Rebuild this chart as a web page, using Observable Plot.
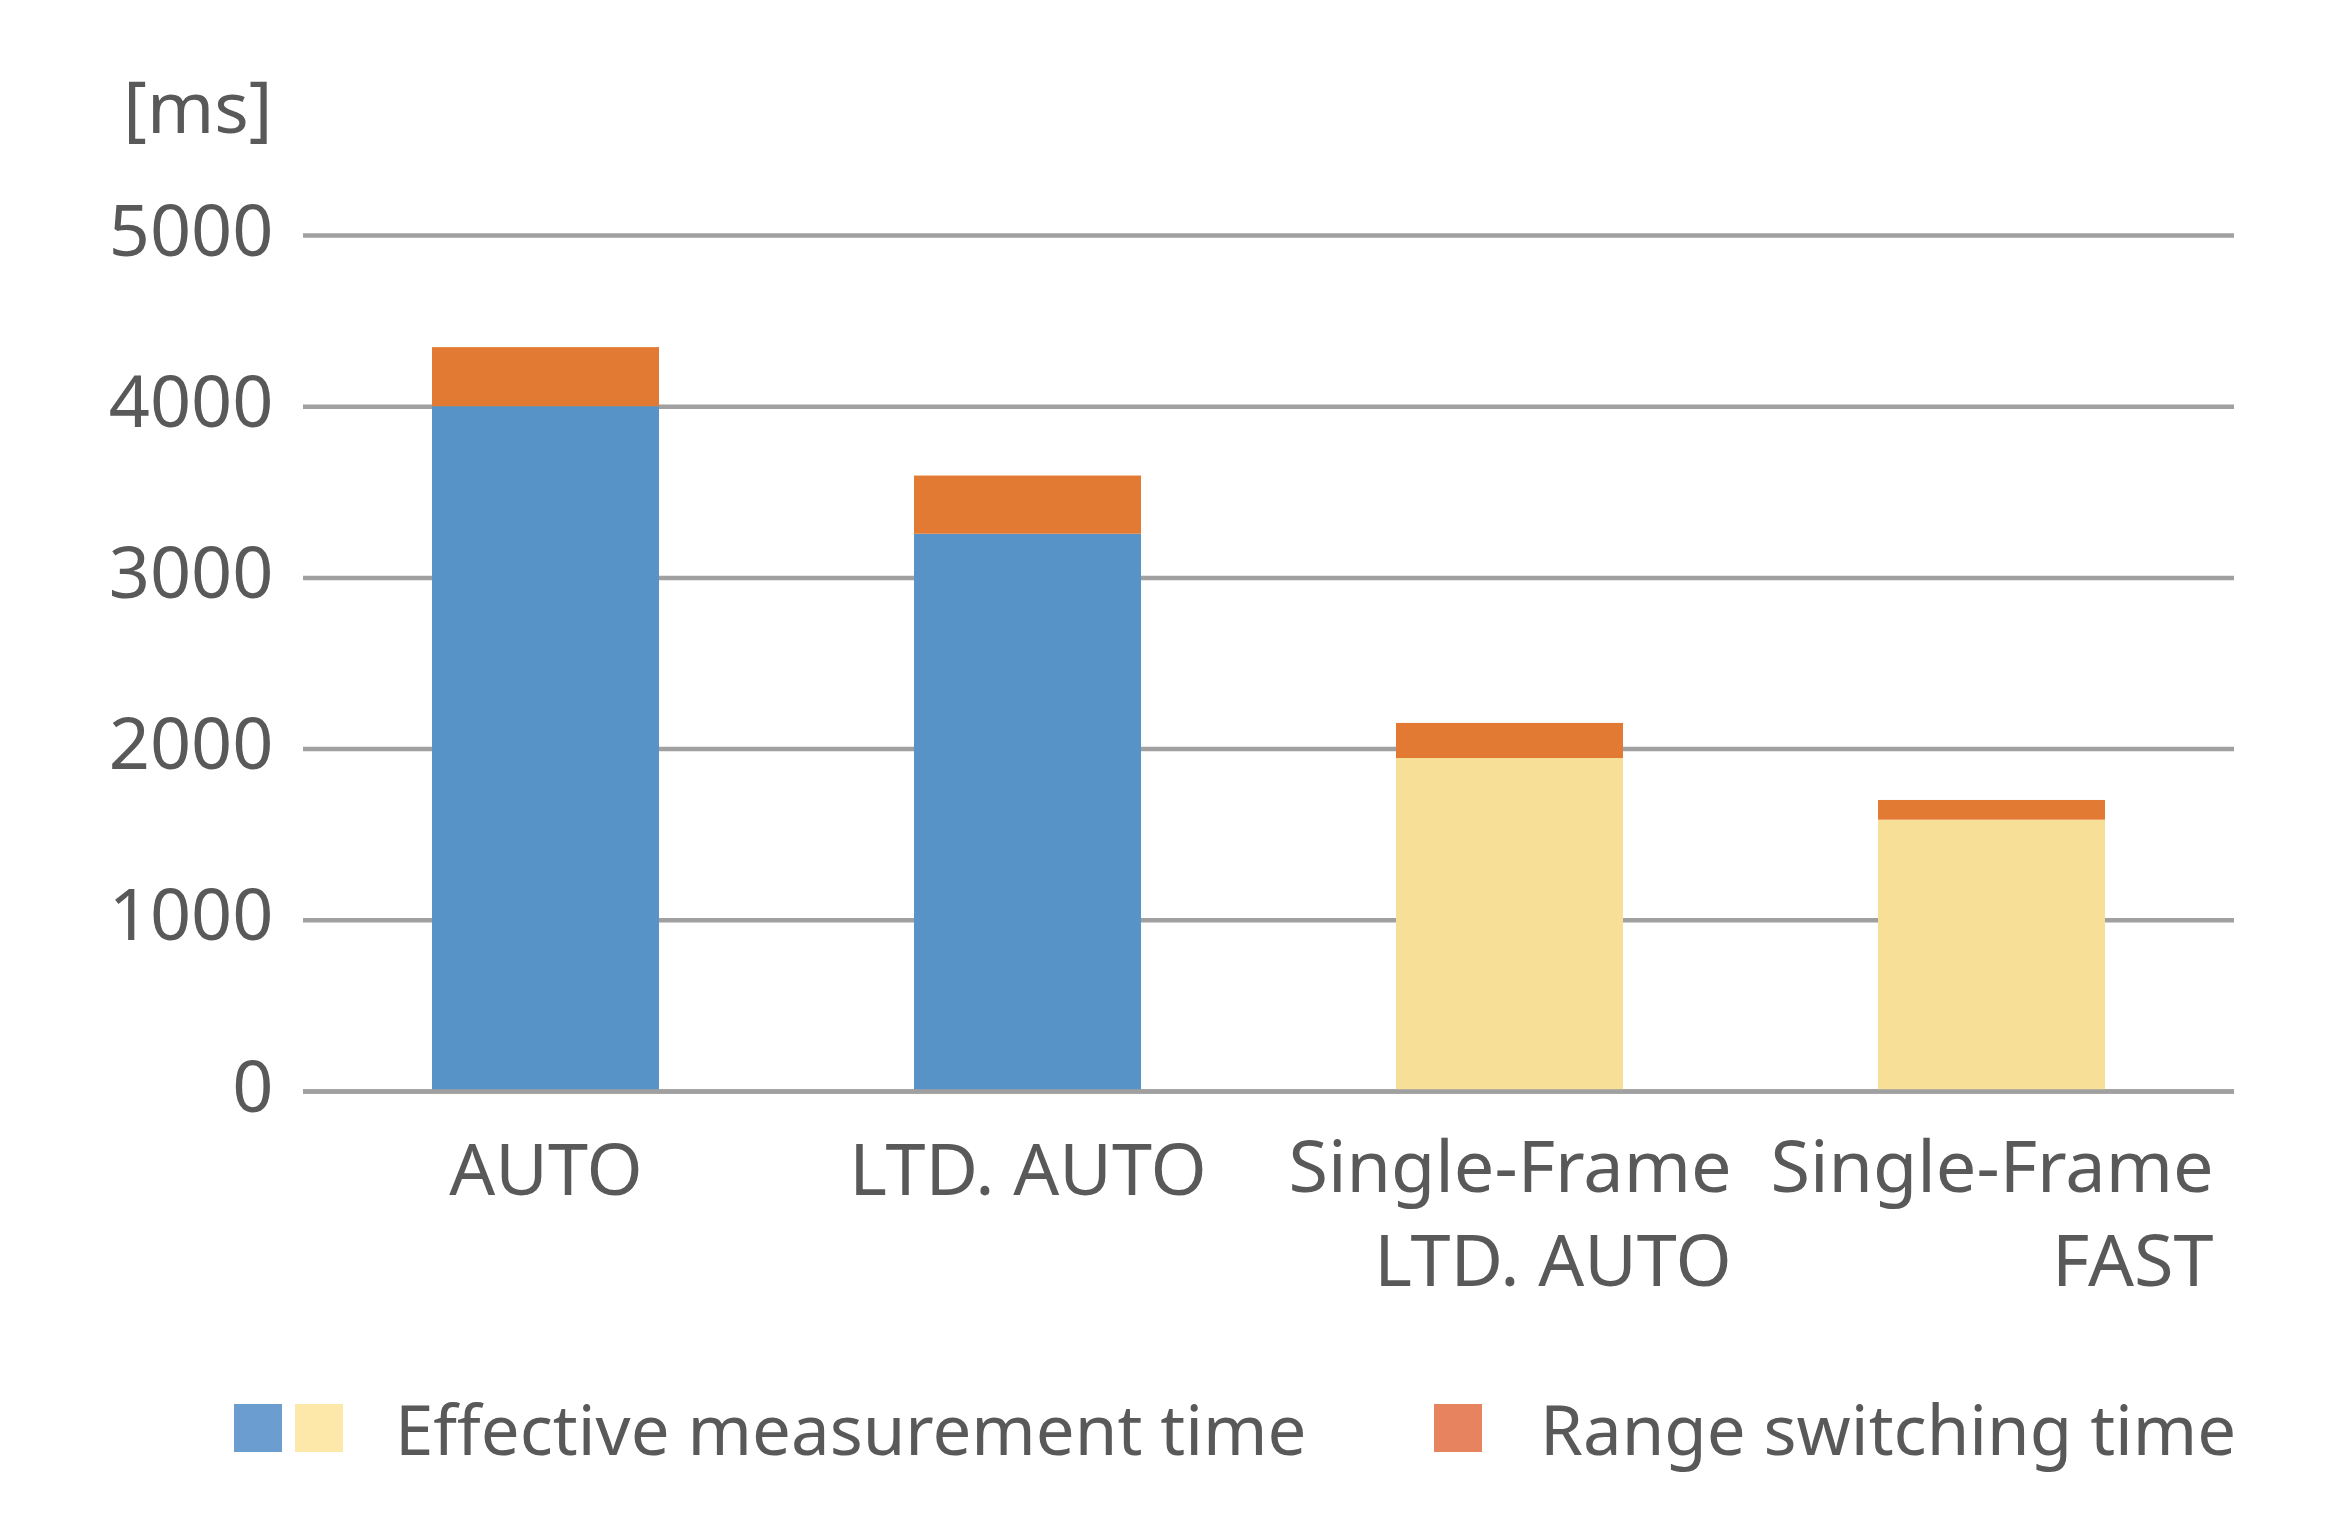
<!DOCTYPE html>
<html><head><meta charset="utf-8">
<script src="https://cdn.jsdelivr.net/npm/d3@7"></script>
<script src="https://cdn.jsdelivr.net/npm/@observablehq/plot@0.6"></script>
<style>
body{margin:0;background:#fff;font-family:"Noto Sans",sans-serif;width:2340px;height:1540px;overflow:hidden}
#legend{position:relative;height:190px;margin-top:54px;color:#595959;font-size:69px}
.item{position:absolute;top:0;display:flex;align-items:center;height:48px;white-space:nowrap}
.sw{width:48px;height:48px;display:inline-block}
</style></head><body><div id="chart"></div><div id="legend"></div>
<script>
const categories = ["AUTO", "LTD. AUTO", "Single-Frame\nLTD. AUTO", "Single-Frame\nFAST"];
const effectiveTime = [4000, 3255, 1945, 1585];
const switchingTime = [345, 340, 205, 115];
const yTicks = [0, 1000, 2000, 3000, 4000, 5000];
const seriesNames = ["Effective measurement time", "Range switching time"];
const unitLabel = "[ms]";
const effectiveColors = ["#5793C7", "#5793C7", "#F7DF97", "#F7DF97"];
const switchingColor = "#E37A33";
const legendColors = [["#6C9DD0", "#FDE8A9"], ["#E8835F"]];

const textColor = "#595959";
const fontFamily = "Noto Sans";
const fs = 72;

const rows = [];
categories.forEach((c, i) => {
  rows.push({cat: c, series: seriesNames[0], value: effectiveTime[i], fill: effectiveColors[i]});
  rows.push({cat: c, series: seriesNames[1], value: switchingTime[i], fill: switchingColor});
});

const singleLine = categories.filter(c => !c.includes("\n"));
const multiLine = categories.filter(c => c.includes("\n"));

const ctx = document.createElement("canvas").getContext("2d");
ctx.font = `${fs}px "${fontFamily}"`;
const firstLineW = multiLine.length ? ctx.measureText(multiLine[0].split("\n")[0]).width : 0;

const chart = Plot.plot({
  width: 2340, height: 1350,
  marginTop: 235, marginBottom: 259, marginLeft: 303, marginRight: 106,
  style: {fontFamily, fontSize: fs + "px", color: textColor, background: "#fff", overflow: "visible"},
  x: {domain: categories, paddingInner: 0.53, paddingOuter: 0.265, axis: null},
  y: {domain: [0, 5000], axis: null},
  color: {type: "identity"},
  marks: [
    Plot.gridY(yTicks, {stroke: "#a0a0a0", strokeOpacity: 1, strokeWidth: 4.5}),
    Plot.axisY(yTicks, {tickSize: 0, tickPadding: 30, tickFormat: d3.format("d"), fontSize: fs, fill: textColor, label: null, dy: -3}),
    Plot.barY(rows, {x: "cat", y: "value", fill: "fill"}),
    Plot.ruleY([0], {stroke: "#a0a0a0", strokeWidth: 4.5}),
    Plot.text([unitLabel], {frameAnchor: "top-left", textAnchor: "end", dx: -31, dy: -154, fontSize: fs, fill: textColor}),
    Plot.text(singleLine, {x: d => d, text: d => d, frameAnchor: "bottom", lineAnchor: "top", dy: 52, textAnchor: "middle", fontSize: fs, fill: textColor}),
    Plot.text(multiLine, {x: d => d, text: d => d, frameAnchor: "bottom", lineAnchor: "top", dy: 34, lineHeight: 1.3, textAnchor: "end", dx: firstLineW / 2, fontSize: fs, fill: textColor})
  ]
});
document.getElementById("chart").append(chart);

const legend = document.getElementById("legend");
const lefts = [234, 1434];
seriesNames.forEach((name, k) => {
  const item = document.createElement("div");
  item.className = "item";
  item.style.left = lefts[k] + "px";
  legendColors[k].forEach((col, j) => {
    const s = document.createElement("span");
    s.className = "sw";
    s.style.background = col;
    if (j > 0) s.style.marginLeft = "13px";
    item.append(s);
  });
  const t = document.createElement("span");
  t.textContent = name;
  t.style.marginLeft = k === 0 ? "52px" : "58px";
  item.append(t);
  legend.append(item);
});
</script></body></html>
